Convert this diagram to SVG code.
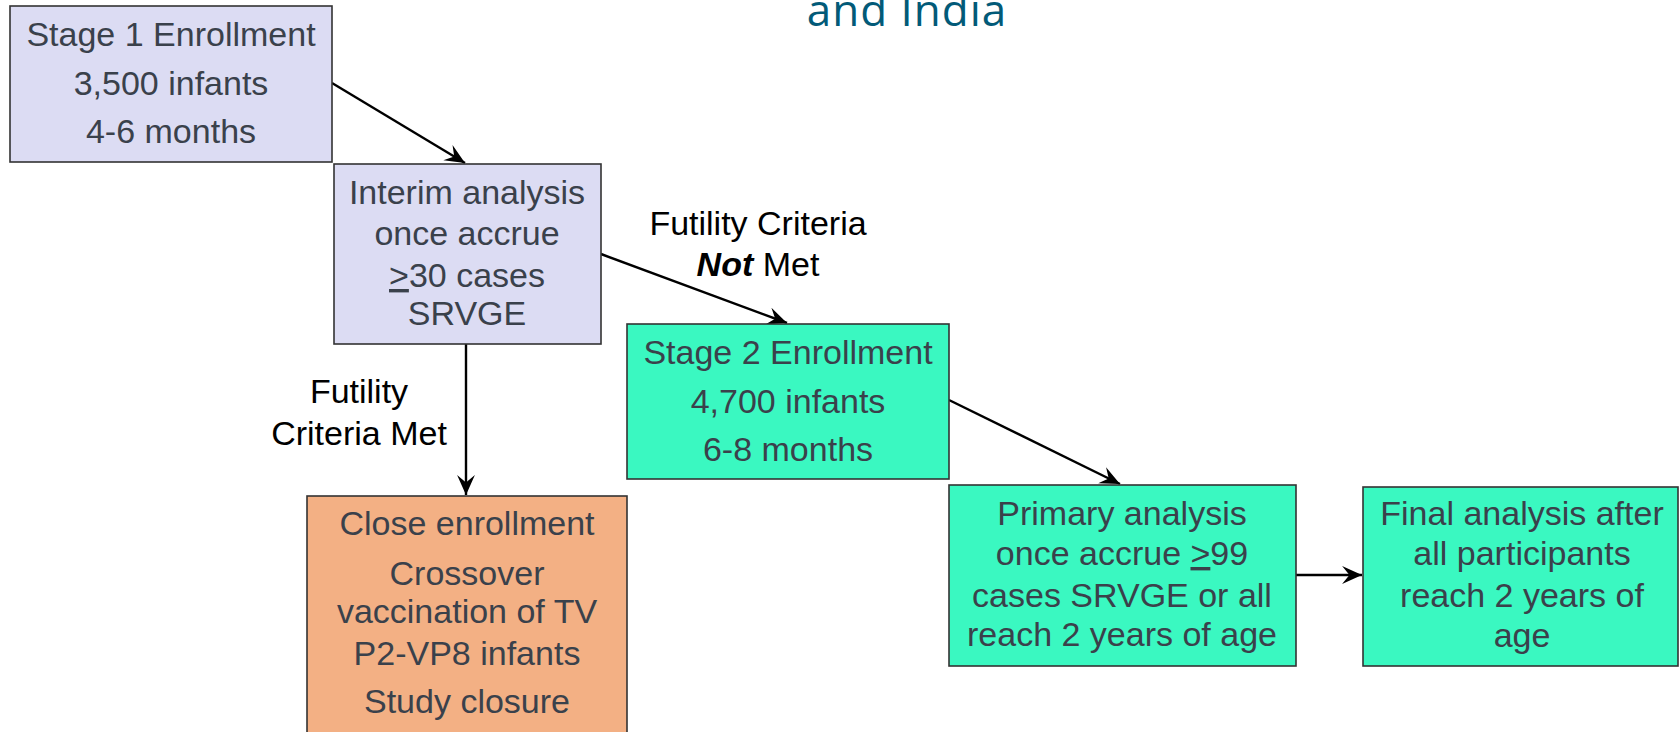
<svg xmlns="http://www.w3.org/2000/svg" width="1680" height="732" viewBox="0 0 1680 732">
<style>
.box{stroke:#333333;stroke-width:1.6}
.lav{fill:#dcdcf3}
.grn{fill:#3af8c1}
.org{fill:#f3b084}
.t{font-family:"Liberation Sans",Arial,sans-serif;font-size:34px;fill:#3a414b;text-anchor:middle}
.lbl{font-family:"Liberation Sans",Arial,sans-serif;font-size:34px;fill:#000000;text-anchor:middle}
.title{font-family:"Open Sans",sans-serif;font-size:44px;letter-spacing:1px;fill:#025a78;text-anchor:middle}
.conn{stroke:#000000;stroke-width:2.4;fill:none;marker-end:url(#ah)}
.ul{text-decoration:underline}
</style>
<defs>
<marker id="ah" markerUnits="userSpaceOnUse" markerWidth="22" markerHeight="20" refX="19" refY="8.5" orient="auto" viewBox="0 0 21 17">
<path d="M0,0 L19,8.5 L0,17 L7,8.5 Z" fill="#000000"/>
</marker>
</defs>
<rect width="1680" height="732" fill="#ffffff"/>
<text class="title" x="907" y="26">and India</text>

<g id="connectors">
<line class="conn" x1="332" y1="83" x2="465" y2="163"/>
<line class="conn" x1="601" y1="254" x2="787" y2="323"/>
<line class="conn" x1="466" y1="344" x2="466" y2="495"/>
<line class="conn" x1="949" y1="400" x2="1120" y2="484"/>
<line class="conn" x1="1296" y1="575" x2="1362" y2="575"/>
<text class="lbl" x="758" y="235">Futility Criteria</text>
<text class="lbl" x="758" y="276"><tspan font-weight="bold" font-style="italic">Not</tspan> Met</text>
<text class="lbl" x="359" y="403">Futility</text>
<text class="lbl" x="359" y="445">Criteria Met</text>
</g>

<g id="stage1">
<rect class="box lav" x="10" y="6" width="322" height="156"/>
<text class="t" x="171" y="46">Stage 1 Enrollment</text>
<text class="t" x="171" y="95">3,500 infants</text>
<text class="t" x="171" y="143">4-6 months</text>
</g>

<g id="interim">
<rect class="box lav" x="334" y="164" width="267" height="180"/>
<text class="t" x="467" y="204">Interim analysis</text>
<text class="t" x="467" y="245">once accrue</text>
<text class="t" x="467" y="287"><tspan class="ul">&gt;</tspan>30 cases</text>
<text class="t" x="467" y="325">SRVGE</text>
</g>

<g id="close">
<rect class="box org" x="307" y="496" width="320" height="250"/>
<text class="t" x="467" y="535">Close enrollment</text>
<text class="t" x="467" y="585">Crossover</text>
<text class="t" x="467" y="623">vaccination of TV</text>
<text class="t" x="467" y="665">P2-VP8 infants</text>
<text class="t" x="467" y="713">Study closure</text>
</g>

<g id="stage2">
<rect class="box grn" x="627" y="324" width="322" height="155"/>
<text class="t" x="788" y="364">Stage 2 Enrollment</text>
<text class="t" x="788" y="413">4,700 infants</text>
<text class="t" x="788" y="461">6-8 months</text>
</g>

<g id="primary">
<rect class="box grn" x="949" y="485" width="347" height="181"/>
<text class="t" x="1122" y="525">Primary analysis</text>
<text class="t" x="1122" y="565">once accrue <tspan class="ul">&gt;</tspan>99</text>
<text class="t" x="1122" y="607">cases SRVGE or all</text>
<text class="t" x="1122" y="646">reach 2 years of age</text>
</g>

<g id="final">
<rect class="box grn" x="1363" y="487" width="315" height="179"/>
<text class="t" x="1522" y="525">Final analysis after</text>
<text class="t" x="1522" y="565">all participants</text>
<text class="t" x="1522" y="607">reach 2 years of</text>
<text class="t" x="1522" y="647">age</text>
</g>
</svg>
